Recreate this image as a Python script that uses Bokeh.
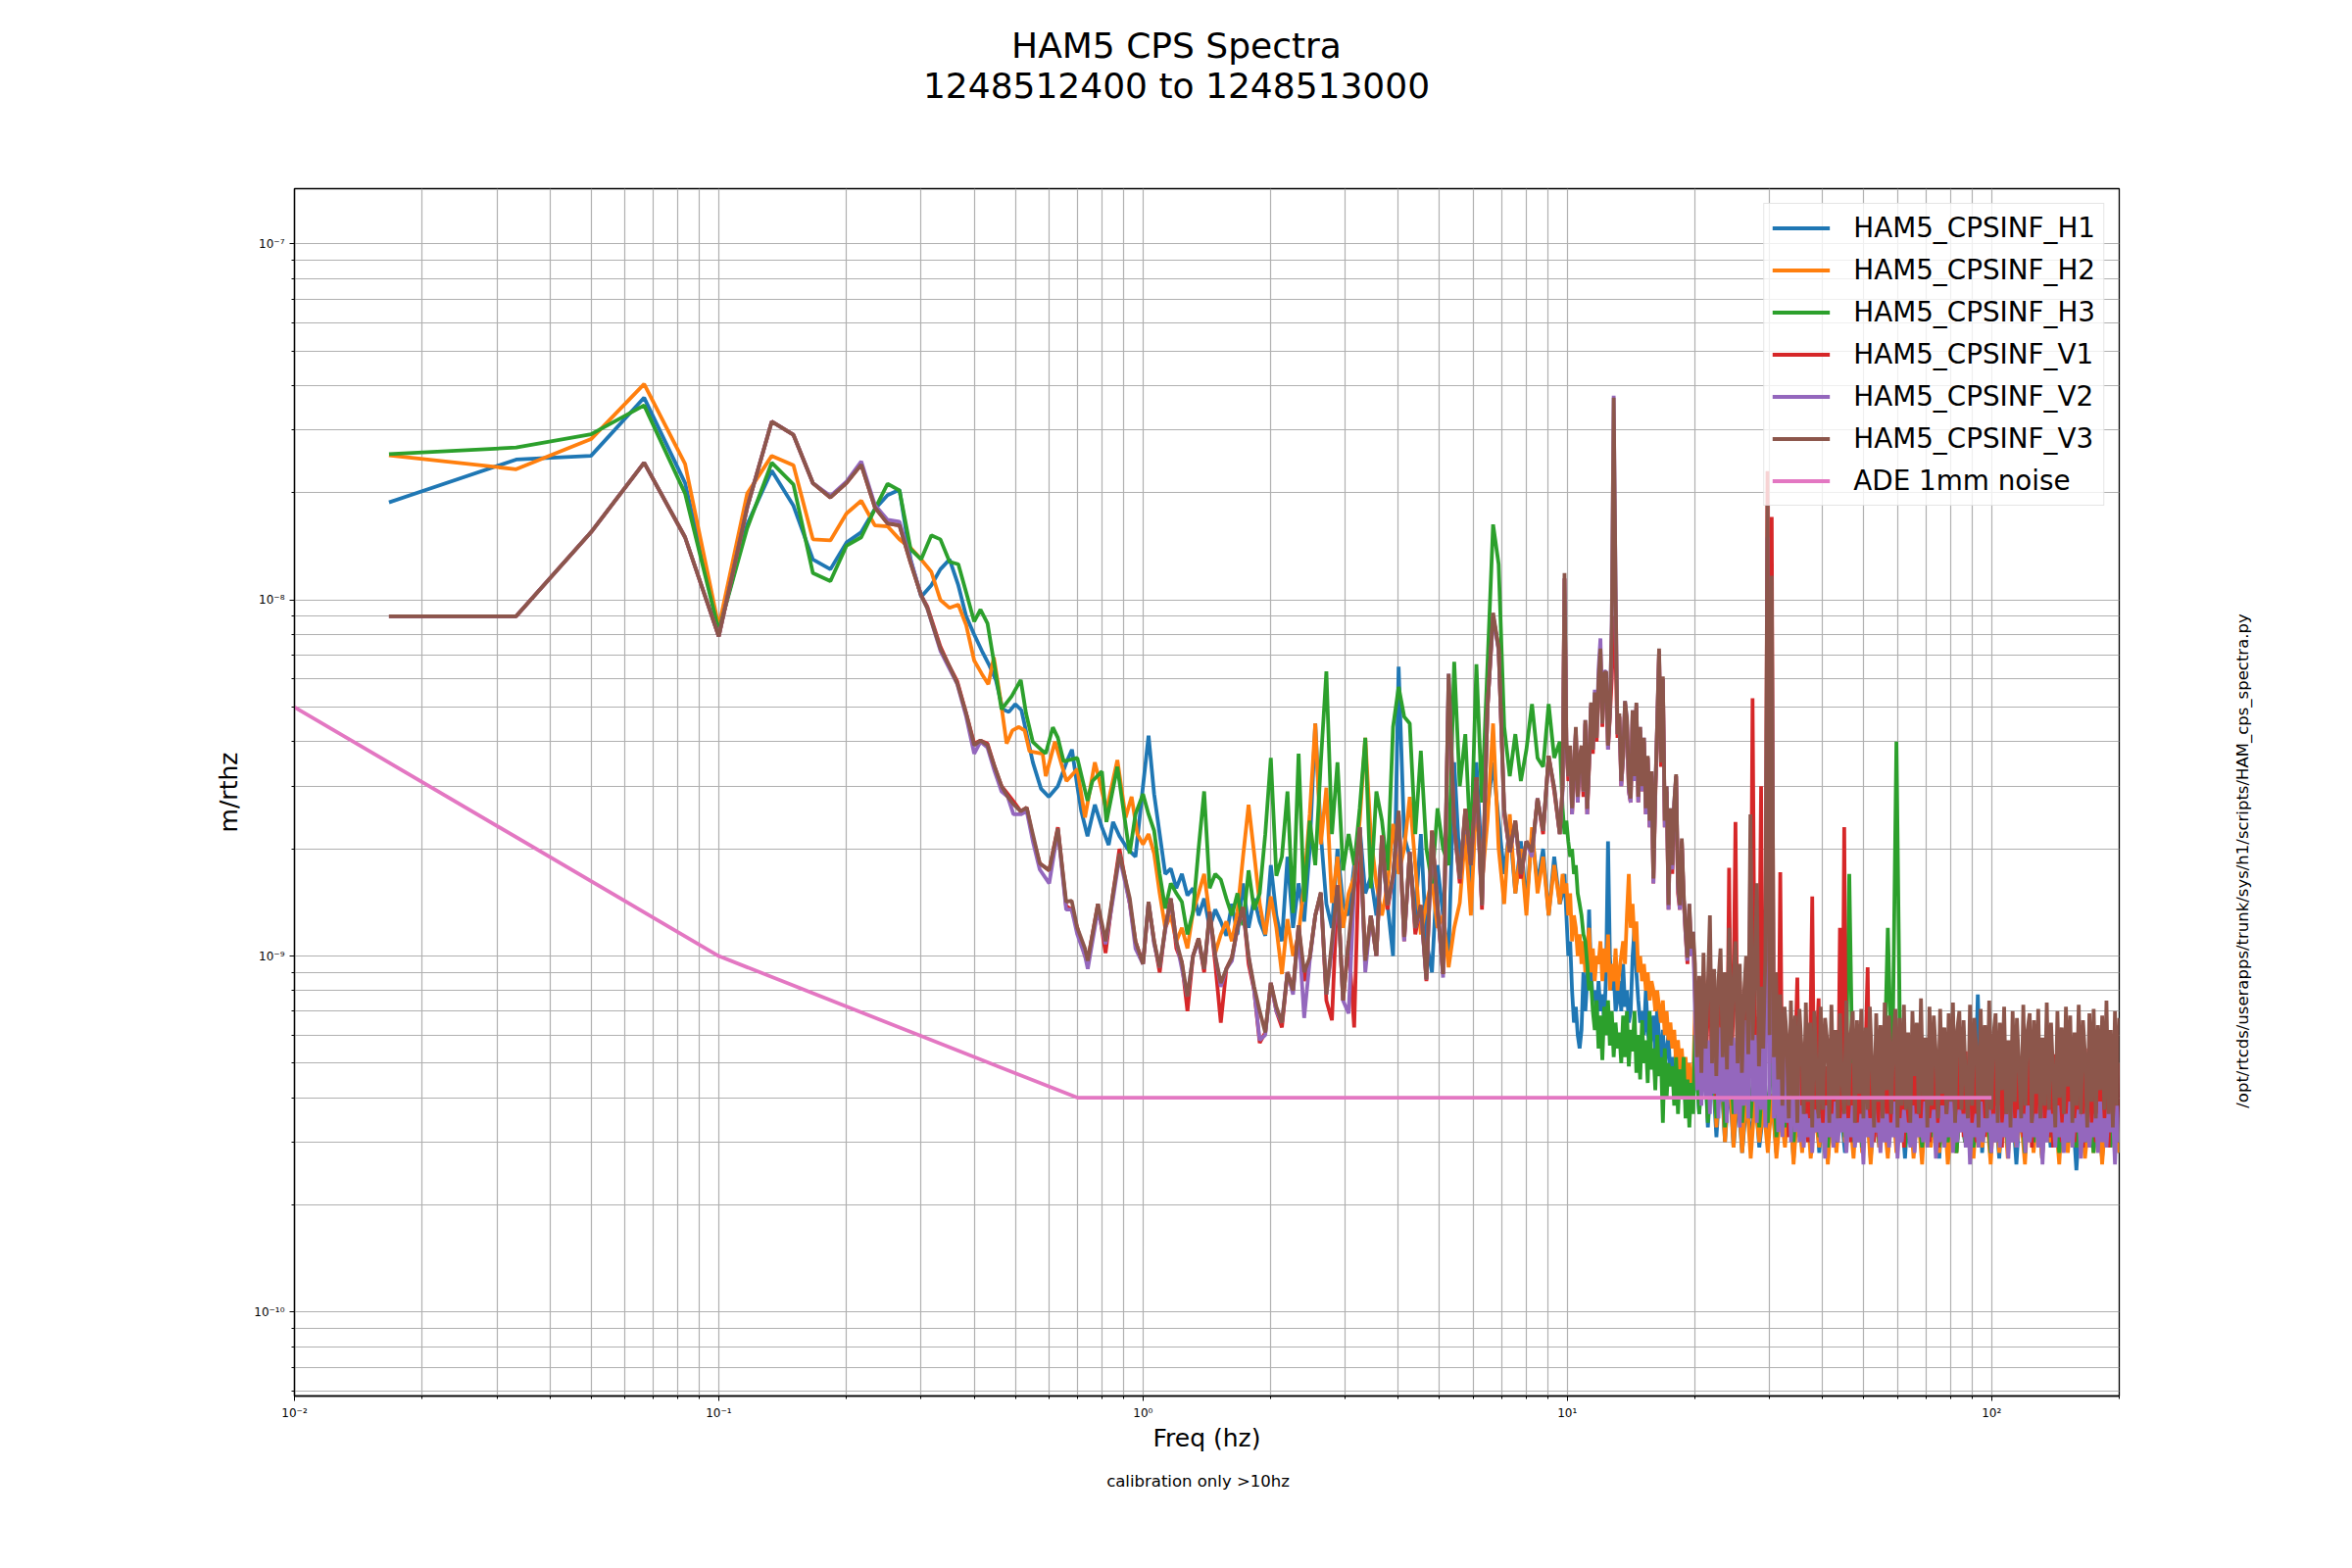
import sys
import numpy as np
from bokeh.plotting import figure
from bokeh.models import FixedTicker, CustomJSTickFormatter, Label
from bokeh.layouts import column, row
from bokeh.embed import file_html
from bokeh.resources import INLINE

# ---------------- data (values in units of 1e-9 m/rthz) ----------------
UNIT = 1e-9
names = ["HAM5_CPSINF_H1", "HAM5_CPSINF_H2", "HAM5_CPSINF_H3",
         "HAM5_CPSINF_V1", "HAM5_CPSINF_V2", "HAM5_CPSINF_V3"]
colors = ["#1f77b4", "#ff7f0e", "#2ca02c", "#d62728", "#9467bd", "#8c564b"]

# lowest FFT bins (k/60 Hz)
freq_low = [0.0167, 0.0333, 0.05, 0.0667, 0.0833, 0.1, 0.1167, 0.1333, 0.15,
            0.1667, 0.1833, 0.2, 0.2167, 0.2333, 0.25, 0.2667, 0.2833]
h1_low = [18.8, 24.8, 25.4, 37.0, 21.3, 8.2, 16.3, 23.1, 18.4, 13.0, 12.2, 14.5, 15.5, 18.0, 19.7, 20.4, 13.0]
h2_low = [25.5, 23.3, 28.3, 40.4, 24.1, 8.4, 19.9, 25.4, 23.9, 14.8, 14.7, 17.5, 19.0, 16.2, 16.1, 14.8, 14.0]
h3_low = [25.7, 26.8, 29.2, 35.2, 19.9, 8.2, 15.9, 24.3, 21.1, 11.9, 11.3, 14.2, 15.0, 18.0, 21.2, 20.3, 13.9]
v1_low = [9.0, 9.0, 15.5, 24.3, 15.0, 7.9, 18.2, 31.7, 29.1, 21.3, 19.4, 21.3, 24.0, 18.2, 16.4, 16.2, 12.7]
v2_low = [9.0, 9.0, 15.5, 24.3, 15.0, 7.9, 18.2, 31.7, 29.1, 21.3, 19.6, 21.5, 24.5, 18.5, 16.8, 16.6, 12.9]
v3_low = [9.0, 9.0, 15.5, 24.3, 15.0, 7.9, 18.2, 31.7, 29.1, 21.3, 19.4, 21.3, 24.0, 18.2, 16.4, 16.2, 12.7]

# 0.3 - 1 Hz
h1_mid_f = [0.30, 0.317, 0.333, 0.35, 0.367, 0.383, 0.40, 0.417, 0.433, 0.45, 0.467, 0.483, 0.50, 0.517, 0.55,
            0.575, 0.60, 0.63, 0.66, 0.68, 0.70, 0.715, 0.74, 0.77, 0.80, 0.83, 0.85, 0.88, 0.92, 0.96]
h1_mid_v = [10.2, 11.0, 12.2, 13.0, 11.0, 9.0, 8.0, 7.2, 6.6, 5.96, 4.93, 4.85, 5.1, 4.9, 3.5,
            2.95, 2.8, 3.0, 3.5, 3.8, 3.0, 2.56, 2.17, 2.66, 2.3, 2.05, 2.38, 2.17, 2.0, 1.9]
h2_mid_f = [0.30, 0.317, 0.333, 0.35, 0.367, 0.383, 0.40, 0.417, 0.432, 0.445, 0.462, 0.477, 0.492, 0.51, 0.526,
            0.54, 0.58, 0.59, 0.62, 0.66, 0.70, 0.73, 0.77, 0.79, 0.82, 0.87, 0.91, 0.94, 0.97]
h2_mid_v = [13.0, 12.0, 10.0, 9.5, 9.7, 8.5, 6.76, 6.2, 5.8, 6.9, 5.2, 3.95, 4.3, 4.4, 4.3,
            3.76, 3.7, 3.2, 4.0, 3.1, 3.35, 2.45, 3.5, 3.1, 2.56, 3.55, 2.45, 2.8, 2.2]
h3_mid_f = [0.30, 0.317, 0.333, 0.35, 0.367, 0.383, 0.40, 0.414, 0.43, 0.447, 0.464, 0.49, 0.515, 0.53,
            0.55, 0.575, 0.59, 0.613, 0.63, 0.65, 0.70, 0.74, 0.76, 0.80, 0.82, 0.87, 0.93, 0.96]
h3_mid_v = [13.0, 15.2, 14.8, 12.8, 12.6, 10.5, 8.7, 9.4, 8.6, 6.5, 4.93, 5.36, 5.96, 4.8,
            3.99, 3.8, 3.71, 4.39, 4.1, 3.52, 3.6, 2.73, 3.1, 3.3, 2.38, 3.4, 1.94, 2.5]
v_mid_f = [0.30, 0.31, 0.333, 0.35, 0.365, 0.383, 0.40, 0.414, 0.43, 0.447, 0.464, 0.48, 0.495, 0.515, 0.532,
           0.55, 0.571, 0.601, 0.63, 0.659, 0.679, 0.70, 0.73, 0.741, 0.783, 0.816, 0.85, 0.88, 0.931, 0.96]
v1_mid_v = [10.3, 9.6, 7.4, 6.5, 5.9, 4.8, 3.95, 4.03, 3.95, 3.4, 3.0, 2.85, 2.72, 2.55, 2.61,
            2.15, 1.82, 1.74, 2.3, 1.38, 1.35, 1.2, 1.0, 0.97, 1.4, 1.02, 1.5, 2.0, 1.4, 1.1]
v2_mid_v = [10.3, 9.5, 7.2, 6.4, 5.8, 4.7, 3.7, 4.0, 3.85, 3.3, 2.9, 2.8, 2.5, 2.5, 2.55,
            2.1, 1.75, 1.6, 2.25, 1.35, 1.35, 1.15, 1.0, 0.92, 1.35, 1.08, 1.45, 1.9, 1.4, 1.05]
v3_mid_v = [10.3, 9.5, 7.3, 6.5, 5.83, 4.8, 3.91, 4.03, 3.91, 3.4, 3.0, 2.8, 2.67, 2.55, 2.61,
            2.2, 1.82, 1.74, 2.28, 1.42, 1.43, 1.2, 1.05, 0.97, 1.40, 1.10, 1.5, 1.94, 1.45, 1.1]

# 1 - 9.6 Hz, sampled on a log-spaced frequency set
freq_band = np.geomspace(1.0, 19.8, 100)[:76]
h1_band = [3.0, 4.16, 2.85, 2.2, 1.7, 1.76, 1.55, 1.7, 1.48, 1.55,
           1.3, 1.45, 1.2, 1.35, 1.25, 1.14, 1.4, 1.15, 1.6, 1.2,
           1.45, 1.25, 1.14, 1.8, 1.3, 1.1, 1.9, 1.2, 1.6, 1.25,
           2.0, 4.5, 2.2, 1.4, 1.2, 2.0, 1.4, 1.3, 1.8, 2.3,
           1.5, 1.67, 1.3, 2.0, 1.4, 1.0, 6.5, 2.17, 1.9, 1.3,
           2.2, 1.1, 0.9, 1.8, 1.3, 1.0, 3.5, 1.8, 2.4, 1.5,
           3.5, 1.8, 2.6, 3.5, 2.4, 1.7, 2.3, 1.5, 2.1, 1.4,
           2.2, 1.6, 2.0, 1.3, 1.9, 1.4]
h2_band = [2.06, 2.2, 1.94, 1.5, 1.2, 1.3, 1.1, 1.2, 1.05, 1.33,
           1.5, 1.7, 1.3, 1.02, 1.15, 1.25, 1.1, 1.33, 1.9, 2.66,
           1.94, 1.4, 1.15, 1.47, 1.2, 0.89, 1.27, 1.0, 1.15, 1.6,
           2.5, 4.5, 2.06, 2.97, 1.41, 1.9, 1.2, 1.5, 1.67, 2.4,
           4.1, 2.17, 1.6, 1.3, 1.58, 2.35, 1.7, 2.0, 2.8, 1.8,
           1.15, 1.4, 1.64, 1.2, 1.3, 0.93, 1.2, 1.41, 2.2, 1.3,
           2.8, 1.6, 2.4, 4.5, 2.0, 1.4, 2.5, 1.5, 2.0, 1.3,
           2.3, 1.5, 1.9, 1.3, 1.8, 1.4]
h3_band = [2.85, 2.5, 2.25, 1.7, 1.36, 1.6, 1.5, 1.42, 1.15, 1.33,
           2.0, 2.9, 1.55, 1.7, 1.64, 1.45, 1.3, 1.5, 1.22, 1.74,
           1.35, 1.5, 2.2, 3.6, 1.68, 1.9, 2.9, 1.32, 3.7, 1.42,
           2.4, 1.8, 3.5, 6.3, 2.2, 3.5, 1.74, 2.2, 1.8, 2.6,
           4.1, 1.55, 2.9, 2.4, 1.74, 4.4, 5.7, 4.7, 4.5, 2.2,
           3.77, 2.0, 1.6, 2.6, 2.0, 1.8, 6.7, 3.0, 4.2, 1.96,
           6.6, 2.7, 6.6, 16.3, 12.6, 4.4, 3.2, 4.2, 3.1, 3.8,
           5.1, 3.6, 3.4, 5.1, 3.6, 4.0]
v1_band = [0.95, 1.4, 1.1, 0.9, 1.2, 1.45, 1.05, 0.96, 0.7, 1.0,
           1.12, 0.9, 1.33, 0.95, 0.65, 0.92, 0.99, 1.2, 1.37, 0.95,
           0.8, 0.57, 0.61, 0.84, 0.7, 0.63, 0.9, 0.8, 1.22, 0.85,
           0.99, 1.3, 1.5, 0.75, 0.66, 1.58, 0.75, 1.1, 0.63, 2.3,
           0.95, 1.3, 1.0, 2.18, 1.35, 1.68, 2.5, 1.1, 1.96, 1.15,
           1.39, 0.85, 2.25, 1.35, 0.89, 5.8, 2.33, 1.6, 2.59, 1.8,
           3.18, 1.35, 5.0, 9.0, 7.3, 2.5, 1.96, 2.4, 1.65, 2.1,
           1.96, 2.77, 2.2, 3.65, 2.9, 2.2]
v2_band = [0.95, 1.42, 1.08, 0.93, 1.18, 1.45, 1.1, 0.92, 0.77, 1.0,
           1.1, 0.92, 1.3, 1.0, 0.82, 0.92, 0.97, 1.2, 1.35, 1.0,
           0.8, 0.58, 0.6, 0.84, 0.7, 0.65, 0.9, 0.78, 1.2, 0.67,
           0.97, 1.3, 1.5, 0.78, 1.05, 1.55, 0.75, 0.69, 1.55, 2.3,
           0.9, 1.3, 1.0, 2.15, 1.39, 1.65, 2.5, 1.1, 1.96, 1.2,
           1.35, 0.86, 2.2, 1.39, 0.87, 6.2, 2.3, 1.65, 2.55, 1.8,
           3.1, 1.39, 5.0, 9.0, 7.2, 2.55, 1.96, 2.35, 1.7, 2.1,
           1.9, 2.77, 2.25, 3.6, 2.97, 2.2]
v3_band = [0.95, 1.42, 1.1, 0.93, 1.2, 1.45, 1.1, 0.96, 0.77, 1.0,
           1.12, 0.92, 1.33, 1.0, 0.84, 0.92, 0.99, 1.2, 1.37, 1.0,
           0.82, 0.7, 0.61, 0.84, 0.72, 0.65, 0.9, 0.8, 1.22, 0.9,
           0.99, 1.3, 1.51, 0.78, 1.1, 1.58, 0.75, 1.1, 1.58, 2.3,
           0.97, 1.3, 1.0, 2.18, 1.39, 1.68, 2.56, 1.13, 1.96, 1.2,
           1.39, 0.86, 2.25, 1.39, 0.89, 6.2, 2.33, 1.65, 2.59, 1.8,
           3.18, 1.39, 5.0, 9.2, 7.3, 2.59, 1.96, 2.4, 1.7, 2.1,
           1.96, 2.77, 2.25, 3.65, 2.97, 2.2]

# 9.75 - 19.8 Hz, denser sampling
freq_band2 = np.geomspace(9.75, 19.8, 70)
h1_band2 = [1.5, 1.7, 1.3, 1.0, 1.1, 0.8, 0.65, 0.72, 0.6, 0.55,
            0.62, 0.9, 0.7, 0.85, 1.35, 0.9, 0.75, 0.8, 0.68, 0.85,
            0.7, 0.78, 0.65, 0.9, 2.1, 1.0, 0.8, 0.9, 0.7, 0.75,
            0.85, 0.7, 0.95, 0.72, 0.8, 0.65, 0.7, 1.0, 1.2, 0.9,
            0.75, 0.65, 0.7, 0.6, 0.8, 0.62, 0.55, 0.6, 0.68, 0.52,
            0.72, 0.58, 0.5, 0.62, 0.48, 0.55, 0.6, 0.45, 0.52, 0.47,
            0.55, 0.42, 0.5, 0.4, 0.48, 0.38, 0.45, 0.42, 0.37, 0.44]
h2_band2 = [1.7, 1.5, 1.6, 1.3, 1.5, 1.1, 1.3, 1.2, 1.0, 1.15,
            0.95, 1.1, 0.9, 1.05, 1.2, 0.9, 1.05, 0.85, 1.0, 0.95,
            1.1, 0.85, 1.05, 0.9, 1.15, 0.8, 0.95, 0.85, 1.05, 0.8,
            0.9, 1.0, 1.1, 0.95, 1.3, 1.7, 1.2, 1.4, 1.1, 1.25,
            0.9, 1.0, 0.85, 0.95, 0.8, 0.9, 0.75, 0.85, 0.8, 0.7,
            0.8, 0.72, 0.65, 0.75, 0.6, 0.7, 0.58, 0.65, 0.55, 0.62,
            0.5, 0.58, 0.48, 0.55, 0.45, 0.52, 0.42, 0.5, 0.4, 0.45]
h3_band2 = [2.6, 2.2, 2.4, 2.1, 1.9, 2.0, 1.7, 1.8, 1.5, 1.4,
            1.3, 1.15, 1.1, 0.95, 0.8, 0.85, 0.7, 0.62, 0.75, 0.55,
            0.68, 0.51, 0.72, 0.6, 0.75, 0.56, 0.7, 0.52, 0.65, 0.55,
            0.61, 0.5, 0.68, 0.52, 0.7, 0.49, 0.62, 0.54, 0.7, 0.47,
            0.6, 0.45, 0.66, 0.5, 0.58, 0.44, 0.7, 0.48, 0.55, 0.42,
            0.6, 0.46, 0.52, 0.34, 0.55, 0.4, 0.5, 0.43, 0.49, 0.38,
            0.52, 0.36, 0.48, 0.4, 0.52, 0.35, 0.45, 0.33, 0.44, 0.36]
v1_band2 = [3.0, 11.5, 3.9, 3.1, 3.8, 2.5, 3.2, 4.3, 2.7, 3.5,
            3.8, 2.8, 4.5, 2.5, 3.4, 5.0, 3.7, 5.4, 4.0, 5.9,
            7.1, 4.4, 6.0, 6.2, 3.8, 4.7, 6.0, 9.0, 7.0, 4.1,
            4.7, 3.0, 3.6, 5.1, 4.5, 2.9, 2.7, 4.8, 3.1, 5.0,
            2.7, 4.3, 2.9, 4.0, 2.5, 3.6, 2.3, 3.2, 1.6, 2.8,
            4.4, 7.1, 3.4, 6.0, 2.3, 2.9, 1.35, 2.5, 1.7, 2.6,
            3.2, 1.5, 1.35, 2.1, 1.45, 1.15, 0.95, 1.35, 1.0, 1.15]
v2_band2 = [2.9, 11.5, 3.9, 3.2, 3.8, 2.5, 3.3, 4.3, 2.7, 3.6,
            3.8, 2.9, 4.6, 2.5, 3.5, 5.1, 3.8, 5.6, 4.1, 6.4,
            7.8, 4.5, 6.3, 6.3, 3.8, 4.8, 8.8, 37.5, 11.2, 4.2,
            4.7, 3.0, 3.6, 5.2, 4.6, 2.9, 2.7, 4.9, 3.1, 5.1,
            2.7, 4.4, 2.9, 4.1, 2.5, 3.6, 2.3, 3.3, 1.6, 2.9,
            4.5, 7.2, 3.5, 6.0, 2.3, 3.0, 1.35, 2.6, 1.75, 2.7,
            3.2, 1.55, 1.35, 2.1, 1.45, 1.15, 0.97, 1.4, 1.0, 1.17]
v3_band2 = [3.0, 11.9, 4.0, 3.2, 3.9, 2.6, 3.3, 4.4, 2.8, 3.6,
            3.9, 2.9, 4.6, 2.59, 3.5, 5.15, 3.8, 5.5, 4.1, 6.0,
            7.3, 4.5, 6.2, 6.3, 3.9, 4.8, 8.5, 37.0, 10.9, 4.2,
            4.8, 3.1, 3.65, 5.2, 4.64, 3.0, 2.77, 4.9, 3.2, 5.15,
            2.8, 4.4, 3.0, 4.1, 2.6, 3.65, 2.4, 3.3, 1.65, 2.9,
            4.5, 7.3, 3.5, 6.1, 2.4, 3.0, 1.39, 2.6, 1.8, 2.7,
            3.24, 1.6, 1.39, 2.14, 1.5, 1.2, 0.99, 1.4, 1.05, 1.17]

# 20 - 200 Hz
freq_high_h = np.geomspace(20.0, 200.0, 100)
h1_high = [0.55, 0.36, 0.62, 0.33, 0.50, 0.31, 0.48, 0.30, 0.45, 0.29,
           0.41, 0.28, 0.39, 0.30, 0.42, 0.29, 0.37, 0.31, 0.40, 0.28,
           0.44, 0.30, 0.38, 0.27, 0.41, 0.29, 0.36, 0.30, 0.43, 0.28,
           0.39, 0.27, 0.40, 0.30, 0.37, 0.28, 0.42, 0.29, 0.38, 0.31,
           0.41, 0.27, 0.39, 0.29, 0.44, 0.28, 0.37, 0.30, 0.40, 0.27,
           0.42, 0.29, 0.38, 0.28, 0.41, 0.30, 0.36, 0.27, 0.43, 0.29,
           0.39, 0.28, 0.40, 0.30, 0.37, 0.29, 0.78, 0.28, 0.41, 0.30,
           0.38, 0.27, 0.42, 0.29, 0.39, 0.26, 0.40, 0.28, 0.44, 0.30,
           0.37, 0.27, 0.41, 0.29, 0.38, 0.28, 0.43, 0.30, 0.39, 0.25,
           0.40, 0.28, 0.42, 0.29, 0.37, 0.27, 0.41, 0.30, 0.39, 0.28]
h2_high = [0.70, 0.38, 0.85, 0.35, 0.62, 0.33, 0.55, 0.30, 0.50, 0.29,
           0.46, 0.28, 0.42, 0.27, 0.40, 0.30, 0.38, 0.28, 0.41, 0.27,
           0.37, 0.29, 0.43, 0.26, 0.39, 0.28, 0.40, 0.27, 0.36, 0.29,
           0.42, 0.26, 0.38, 0.28, 0.41, 0.30, 0.37, 0.27, 0.43, 0.28,
           0.39, 0.26, 0.40, 0.29, 0.36, 0.27, 0.42, 0.28, 0.38, 0.30,
           0.41, 0.27, 0.37, 0.26, 0.43, 0.29, 0.39, 0.28, 0.40, 0.26,
           0.36, 0.28, 0.42, 0.30, 0.38, 0.27, 0.41, 0.29, 0.37, 0.26,
           0.43, 0.28, 0.39, 0.27, 0.40, 0.29, 0.36, 0.26, 0.42, 0.28,
           0.38, 0.27, 0.41, 0.30, 0.37, 0.26, 0.43, 0.28, 0.39, 0.29,
           0.40, 0.27, 0.36, 0.28, 0.42, 0.26, 0.38, 0.30, 0.41, 0.28]
h3_high = [0.60, 0.36, 0.65, 0.34, 0.58, 0.35, 0.62, 0.33, 0.55, 0.36,
           0.60, 0.34, 0.52, 0.35, 0.57, 0.33, 0.50, 0.34, 0.55, 0.31,
           0.48, 0.33, 0.50, 0.30, 0.46, 0.32, 0.44, 0.30, 0.45, 0.31,
           0.42, 0.29, 0.44, 0.30, 0.41, 0.31, 1.70, 0.30, 0.43, 0.29,
           0.40, 0.31, 0.42, 0.30, 0.39, 1.20, 0.42, 4.00, 0.40, 0.29,
           0.41, 0.30, 0.38, 0.29, 0.42, 0.31, 0.40, 0.29, 0.39, 0.30,
           0.43, 0.28, 0.40, 0.30, 0.38, 0.29, 0.41, 0.31, 0.39, 0.28,
           0.42, 0.30, 0.40, 0.29, 0.37, 0.30, 0.41, 0.28, 0.40, 0.30,
           0.38, 0.29, 0.42, 0.31, 0.39, 0.28, 0.41, 0.30, 0.40, 0.29,
           0.38, 0.30, 0.42, 0.28, 0.40, 0.31, 0.39, 0.29, 0.41, 0.30]
freq_high_v = np.geomspace(20.0, 200.0, 200)
v1_high = [0.80, 0.44, 0.75, 0.42, 0.90, 0.46, 0.70, 0.95, 0.43, 0.82,
           0.40, 0.78, 0.88, 0.44, 0.80, 0.41, 1.77, 0.47, 0.72, 2.38,
           0.42, 0.85, 0.39, 0.70, 0.86, 0.44, 0.60, 5.30, 0.75, 0.45,
           0.68, 3.00, 0.41, 0.80, 23.0, 0.50, 17.1, 0.43, 0.78, 0.36,
           1.72, 0.33, 0.56, 0.48, 0.31, 0.55, 0.33, 0.52, 0.87, 0.31,
           0.54, 0.33, 0.50, 0.30, 0.53, 1.47, 0.32, 0.55, 0.76, 0.30,
           0.52, 0.33, 0.49, 0.31, 0.54, 0.33, 0.51, 0.30, 1.20, 0.33,
           2.30, 0.31, 0.53, 0.30, 0.50, 0.33, 0.55, 0.31, 0.52, 0.29,
           0.54, 0.93, 0.32, 0.51, 0.30, 0.53, 0.31, 0.56, 0.32, 0.50,
           0.30, 0.54, 0.33, 0.52, 0.31, 0.49, 0.32, 0.55, 0.29, 0.53,
           0.32, 0.51, 0.30, 0.54, 0.33, 0.52, 0.31, 0.50, 0.32, 0.56,
           0.30, 0.53, 0.32, 0.51, 0.29, 0.54, 0.33, 0.52, 0.31, 0.49,
           0.33, 0.55, 0.30, 0.52, 0.32, 0.50, 0.31, 0.54, 0.29, 0.53,
           0.32, 0.51, 0.30, 0.55, 0.32, 0.52, 0.31, 0.49, 0.33, 0.54,
           0.30, 0.52, 0.32, 0.50, 0.29, 0.55, 0.31, 0.53, 0.32, 0.51,
           0.30, 0.54, 0.32, 0.52, 0.31, 0.49, 0.33, 0.53, 0.29, 0.55,
           0.32, 0.51, 0.30, 0.54, 0.32, 0.52, 0.31, 0.50, 0.29, 0.53,
           0.33, 0.55, 0.30, 0.52, 0.32, 0.49, 0.31, 0.54, 0.30, 0.51,
           0.32, 0.53, 0.29, 0.55, 0.31, 0.52, 0.32, 0.50, 0.30, 0.54,
           0.31, 0.51, 0.32, 0.53, 0.29, 0.52, 0.32, 0.54, 0.30, 0.50]
v2_high = [0.70, 0.42, 0.62, 0.38, 0.66, 0.40, 0.58, 0.36, 0.64, 0.41,
           0.60, 0.35, 0.63, 0.39, 0.57, 0.34, 0.65, 0.40, 0.59, 0.36,
           0.62, 0.33, 0.61, 0.38, 0.66, 0.35, 2.00, 0.39, 0.60, 0.34,
           0.63, 0.37, 0.58, 0.33, 15.0, 0.40, 9.00, 0.35, 0.59, 0.32,
           0.56, 0.31, 0.54, 0.34, 0.52, 0.30, 0.55, 0.32, 0.50, 0.30,
           0.38, 0.29, 0.36, 0.31, 0.35, 0.28, 0.37, 0.32, 0.36, 0.30,
           0.34, 0.27, 0.38, 0.31, 0.36, 0.29, 0.39, 0.30, 0.35, 0.32,
           0.37, 0.28, 0.35, 0.31, 0.38, 0.29, 0.34, 0.30, 0.36, 0.26,
           0.39, 0.31, 0.35, 0.29, 0.37, 0.32, 0.34, 0.28, 0.38, 0.30,
           0.36, 0.29, 0.34, 0.31, 0.39, 0.27, 0.35, 0.30, 0.37, 0.32,
           0.34, 0.29, 0.38, 0.28, 0.36, 0.31, 0.35, 0.30, 0.39, 0.29,
           0.35, 0.32, 0.37, 0.27, 0.34, 0.30, 0.38, 0.29, 0.36, 0.31,
           0.39, 0.28, 0.35, 0.30, 0.37, 0.32, 0.36, 0.29, 0.38, 0.26,
           0.34, 0.31, 0.36, 0.29, 0.39, 0.30, 0.35, 0.32, 0.37, 0.28,
           0.36, 0.30, 0.38, 0.29, 0.34, 0.31, 0.36, 0.27, 0.39, 0.30,
           0.35, 0.29, 0.37, 0.32, 0.36, 0.28, 0.38, 0.30, 0.34, 0.31,
           0.36, 0.29, 0.39, 0.26, 0.35, 0.30, 0.37, 0.32, 0.36, 0.29,
           0.38, 0.31, 0.34, 0.28, 0.36, 0.30, 0.39, 0.29, 0.35, 0.32,
           0.37, 0.27, 0.36, 0.30, 0.38, 0.29, 0.34, 0.31, 0.36, 0.28,
           0.39, 0.30, 0.35, 0.29, 0.37, 0.32, 0.36, 0.26, 0.38, 0.30]
v3_high = [0.95, 0.52, 0.88, 0.47, 1.02, 0.55, 0.80, 1.30, 0.50, 0.92,
           0.46, 0.85, 1.05, 0.52, 0.90, 0.48, 1.20, 0.56, 0.83, 1.10,
           0.50, 0.95, 0.47, 0.78, 1.00, 0.53, 2.50, 0.58, 0.86, 1.60,
           0.49, 0.82, 0.55, 0.98, 18.4, 0.60, 11.7, 0.52, 0.90, 0.45,
           0.78, 0.38, 0.72, 0.60, 0.35, 0.75, 0.40, 0.68, 0.34, 0.71,
           0.55, 0.36, 0.74, 0.39, 0.65, 0.33, 0.70, 0.47, 0.35, 0.72,
           0.37, 0.67, 0.58, 0.34, 0.73, 0.40, 0.62, 0.35, 0.69, 0.44,
           0.36, 0.75, 0.38, 0.60, 0.70, 0.34, 0.66, 0.41, 0.71, 0.35,
           0.63, 0.37, 0.72, 0.50, 0.33, 0.69, 0.39, 0.64, 0.35, 0.74,
           0.42, 0.68, 0.36, 0.57, 0.71, 0.33, 0.67, 0.38, 0.73, 0.37,
           0.61, 0.34, 0.70, 0.46, 0.65, 0.36, 0.76, 0.40, 0.59, 0.33,
           0.72, 0.38, 0.68, 0.53, 0.35, 0.71, 0.41, 0.63, 0.36, 0.69,
           0.39, 0.74, 0.34, 0.62, 0.70, 0.37, 0.66, 0.44, 0.35, 0.73,
           0.38, 0.67, 0.55, 0.33, 0.71, 0.40, 0.64, 0.35, 0.75, 0.37,
           0.60, 0.69, 0.34, 0.65, 0.42, 0.72, 0.36, 0.58, 0.33, 0.70,
           0.39, 0.67, 0.49, 0.35, 0.73, 0.38, 0.62, 0.69, 0.34, 0.66,
           0.41, 0.71, 0.35, 0.59, 0.38, 0.74, 0.37, 0.65, 0.46, 0.33,
           0.70, 0.40, 0.63, 0.36, 0.72, 0.43, 0.68, 0.34, 0.61, 0.38,
           0.73, 0.36, 0.66, 0.52, 0.33, 0.69, 0.39, 0.71, 0.35, 0.64,
           0.42, 0.68, 0.37, 0.75, 0.36, 0.62, 0.33, 0.70, 0.38, 0.67]

# ADE 1mm noise reference
ade_f = [0.01, 0.1, 0.7, 100.0]
ade_v = [5.0, 1.0, 0.4, 0.4]

# axis ticks
x_major = [0.01, 0.1, 1.0, 10.0, 100.0]
y_major = [1e-10, 1e-9, 1e-8, 1e-7]

title_1 = "HAM5 CPS Spectra"
title_2 = "1248512400 to 1248513000"
x_label = "Freq (hz)"
y_label = "m/rthz"
note_bottom = "calibration only >10hz"
note_right = "/opt/rtcds/userapps/trunk/sys/h1/scripts/HAM_cps_spectra.py"


def build(parts):
    fs, vs = [], []
    for f, v in parts:
        n = min(len(f), len(v))
        if len(f) != len(v):
            print("length mismatch", len(f), len(v), file=sys.stderr)
        fs.extend(list(f)[:n])
        vs.extend(list(v)[:n])
    return fs, [x * UNIT for x in vs]


series = [
    build([(freq_low, h1_low), (h1_mid_f, h1_mid_v), (freq_band, h1_band), (freq_band2, h1_band2), (freq_high_h, h1_high)]),
    build([(freq_low, h2_low), (h2_mid_f, h2_mid_v), (freq_band, h2_band), (freq_band2, h2_band2), (freq_high_h, h2_high)]),
    build([(freq_low, h3_low), (h3_mid_f, h3_mid_v), (freq_band, h3_band), (freq_band2, h3_band2), (freq_high_h, h3_high)]),
    build([(freq_low, v1_low), (v_mid_f, v1_mid_v), (freq_band, v1_band), (freq_band2, v1_band2), (freq_high_v, v1_high)]),
    build([(freq_low, v2_low), (v_mid_f, v2_mid_v), (freq_band, v2_band), (freq_band2, v2_band2), (freq_high_v, v2_high)]),
    build([(freq_low, v3_low), (v_mid_f, v3_mid_v), (freq_band, v3_band), (freq_band2, v3_band2), (freq_high_v, v3_high)]),
]

# ---------------- layout sizes ----------------
FONT = "DejaVu Sans"
TOTAL_W = 2384
HEAD_H = 110
BODY_H = 1390
FOOT_H = 84
MAIN_W = 300 + 1862 + 100
SIDE_W = TOTAL_W - MAIN_W

# ---------------- main plot ----------------
p = figure(frame_width=1862, frame_height=1232,
           min_border_left=300, min_border_right=100, min_border_top=82, min_border_bottom=76,
           x_axis_type="log", y_axis_type="log",
           x_range=(0.01, 200.0), y_range=(5.81e-11, 1.43e-7),
           output_backend="svg", toolbar_location=None)
p.background_fill_color = "white"
p.border_fill_color = "white"
p.outline_line_color = "black"
p.outline_line_width = 1.3

x_minor = [k * 10.0 ** e for e in range(-2, 3) for k in range(2, 10) if k * 10.0 ** e <= 200]
y_minor = [k * 10.0 ** e for e in range(-11, -6) for k in range(2, 10) if 5.8e-11 <= k * 10.0 ** e <= 1.43e-7]
xt = FixedTicker(ticks=x_major, minor_ticks=x_minor)
yt = FixedTicker(ticks=y_major, minor_ticks=y_minor)
p.xaxis.ticker = xt
p.yaxis.ticker = yt
p.xgrid.ticker = xt
p.ygrid.ticker = yt

fmt_code = """
const e = Math.round(Math.log10(tick));
const m = {'-':'\u207b','0':'\u2070','1':'\u00b9','2':'\u00b2','3':'\u00b3','4':'\u2074',
           '5':'\u2075','6':'\u2076','7':'\u2077','8':'\u2078','9':'\u2079'};
return '10' + String(e).split('').map(c => m[c]).join('');
"""
p.xaxis.formatter = CustomJSTickFormatter(code=fmt_code)
p.yaxis.formatter = CustomJSTickFormatter(code=fmt_code)

for g in (p.xgrid, p.ygrid):
    g.grid_line_color = "#b0b0b0"
    g.grid_line_width = 1.2
    g.minor_grid_line_color = "#b0b0b0"
    g.minor_grid_line_width = 1.2

for ax in (p.xaxis, p.yaxis):
    ax.axis_line_color = "black"
    ax.axis_line_width = 1.3
    ax.major_tick_line_color = "black"
    ax.minor_tick_line_color = "black"
    ax.major_tick_out = 5
    ax.major_tick_in = 0
    ax.minor_tick_out = 3
    ax.minor_tick_in = 0
    ax.major_label_text_font = FONT
    ax.major_label_text_font_size = "12px"
    ax.major_label_text_color = "black"
    ax.axis_label_text_font = FONT
    ax.axis_label_text_font_size = "25px"
    ax.axis_label_text_font_style = "normal"
    ax.axis_label_text_color = "black"
p.xaxis.axis_label = x_label
p.yaxis.axis_label = y_label
p.xaxis.axis_label_standoff = 1
p.yaxis.axis_label_standoff = 8

for (fs, vs), name, col in zip(series, names, colors):
    p.line(fs, vs, line_color=col, line_width=3.8, legend_label=name)
p.line(ade_f, [v * UNIT for v in ade_v], line_color="#e377c2", line_width=3.8, legend_label="ADE 1mm noise")

lg = p.legend[0]
lg.location = "top_right"
lg.margin = 15
lg.padding = 8
lg.spacing = 10
lg.glyph_width = 59
lg.glyph_height = 31
lg.label_height = 31
lg.label_standoff = 24
lg.label_text_font = FONT
lg.label_text_font_size = "27.8px"
lg.label_text_color = "black"
lg.border_line_color = "#cccccc"
lg.border_line_width = 1.3
lg.background_fill_color = "white"
lg.background_fill_alpha = 0.8


# ---------------- text panels ----------------
def text_panel(w, h):
    f = figure(width=w, height=h, min_border=0, x_range=(0, 1), y_range=(0, 1),
               x_axis_location=None, y_axis_location=None, outline_line_color=None,
               output_backend="svg", toolbar_location=None)
    f.grid.visible = False
    f.background_fill_color = "white"
    f.border_fill_color = "white"
    return f


def put(fig, txt, x, y_from_bottom, size, angle=0.0):
    fig.add_layout(Label(x=x, y=y_from_bottom, x_units="screen", y_units="screen", text=txt,
                         text_font=FONT, text_font_size=size, text_align="center",
                         text_baseline="alphabetic", text_color="black", angle=angle))


head = text_panel(TOTAL_W, HEAD_H)
put(head, title_1, 1200, 64, "36px")
put(head, title_2, 1200, 23, "36px")

side = text_panel(SIDE_W, BODY_H)
put(side, note_right, 26, 546, "16.5px", angle=np.pi / 2)

foot = text_panel(TOTAL_W, FOOT_H)
put(foot, note_bottom, 1222, 73, "16.5px")

layout = column(head, row(p, side), foot)
open("out.html", "w").write(file_html(layout, INLINE))
